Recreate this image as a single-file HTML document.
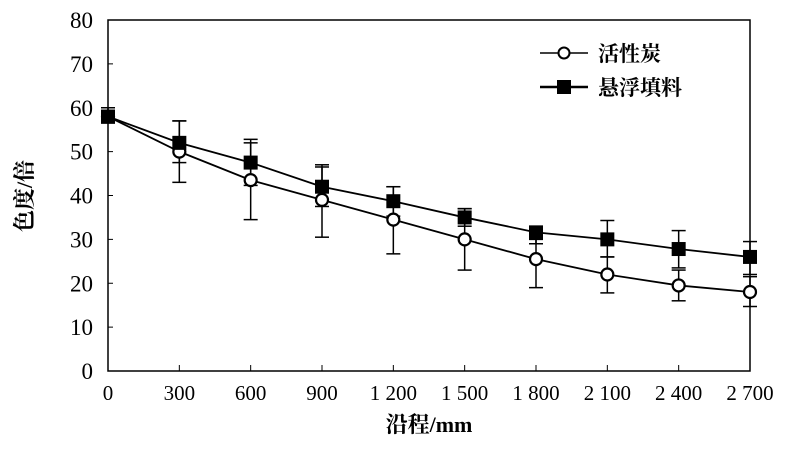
<!DOCTYPE html><html><head><style>body{margin:0;background:#fff}svg{display:block}text{font-family:"Liberation Serif","Noto Serif CJK SC",serif;fill:#000}</style></head><body>
<svg id="s" width="800" height="449" xmlns="http://www.w3.org/2000/svg">
<rect x="108" y="20" width="642" height="351" fill="none" stroke="#000" stroke-width="1.5"/>
<g font-size="23" text-anchor="end" id="yl"></g>
<g font-size="21" text-anchor="middle" id="xl"></g>
<text x="32" y="196" font-size="22" font-weight="bold" text-anchor="middle" transform="rotate(-90 32 196)">色度/倍</text>
<text x="429" y="432" font-size="22" font-weight="bold" text-anchor="middle">沿程/mm</text>
<line x1="540" y1="53" x2="588" y2="53" stroke="#000" stroke-width="1.5"/><circle cx="564" cy="53" r="5.5" fill="#fff" stroke="#000" stroke-width="2"/>
<text x="598" y="61" font-size="21" font-weight="bold">活性炭</text>
<line x1="540" y1="87" x2="588" y2="87" stroke="#000" stroke-width="2.5"/><rect x="557" y="80" width="14" height="14"/>
<text x="598" y="95" font-size="21" font-weight="bold">悬浮填料</text>
<g id="d"></g>
</svg>
<script>
var X=v=>108+v*642/9,Y=v=>371-v*351/80,h='';
var yl='',xl='';
for(var i=0;i<=8;i++){yl+=`<text x="93" y="${Y(i*10)+8}">${i*10}</text>`;if(i>0&&i<8)h+=`<line x1="108" x2="113" y1="${Y(i*10)}" y2="${Y(i*10)}" stroke="#000"/>`;}
var lab=['0','300','600','900','1 200','1 500','1 800','2 100','2 400','2 700'];
for(var i=0;i<10;i++){xl+=`<text x="${X(i)}" y="400">${lab[i]}</text>`;if(i>0&&i<9)h+=`<line x1="${X(i)}" x2="${X(i)}" y1="371" y2="365" stroke="#000"/>`;}
document.getElementById('yl').innerHTML=yl;document.getElementById('xl').innerHTML=xl;
var c=[[58,57,59],[50,43,57],[43.5,34.5,52],[39,30.5,46.5],[34.5,26.7,42],[30,23,37],[25.5,19,30],[22,17.8,26],[19.5,16,23],[18,14.7,21.5]];
var q=[[58,56.5,60],[52,47.5,57],[47.5,42.3,52.8],[42,37.5,47],[38.7,35.3,42],[35,33,37],[31.6,29,31.6],[30,26,34.3],[27.8,23.5,32],[26,22,29.5]];
function eb(a){a.forEach((p,i)=>{var x=X(i);h+=`<line x1="${x}" x2="${x}" y1="${Y(p[1])}" y2="${Y(p[2])}" stroke="#000" stroke-width="1.5"/><line x1="${x-7}" x2="${x+7}" y1="${Y(p[1])}" y2="${Y(p[1])}" stroke="#000" stroke-width="1.5"/><line x1="${x-7}" x2="${x+7}" y1="${Y(p[2])}" y2="${Y(p[2])}" stroke="#000" stroke-width="1.5"/>`;});}
eb(c);eb(q);
h+=`<polyline fill="none" stroke="#000" stroke-width="1.8" points="${c.map((p,i)=>X(i)+','+Y(p[0])).join(' ')}"/>`;
h+=`<polyline fill="none" stroke="#000" stroke-width="1.8" points="${q.map((p,i)=>X(i)+','+Y(p[0])).join(' ')}"/>`;
c.forEach((p,i)=>h+=`<circle cx="${X(i)}" cy="${Y(p[0])}" r="6" fill="#fff" stroke="#000" stroke-width="2.2"/>`);
q.forEach((p,i)=>h+=`<rect x="${X(i)-7}" y="${Y(p[0])-7}" width="14" height="14"/>`);
document.getElementById('d').innerHTML=h;
</script></body></html>
